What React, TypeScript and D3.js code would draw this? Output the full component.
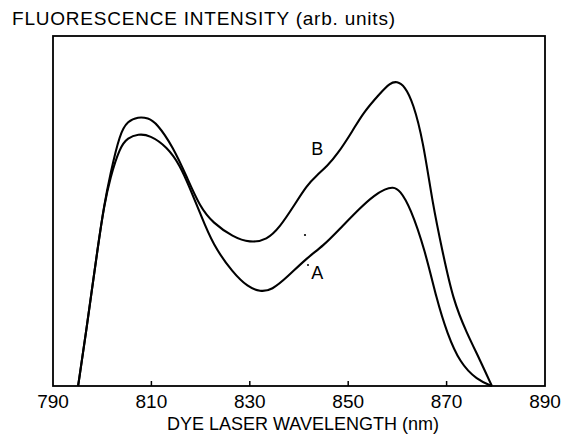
import React from "react";
import * as d3 from "d3";

const W = 573;
const H = 434;

// Wavelength (nm) / intensity (arb. units, 0-100 of frame height)
const wavelengthB = [795.1, 796.5, 799.3, 800.4, 801.6, 803.6, 805.2, 807.3, 809.3, 811.1, 814.4, 817.2, 819.9, 822.5, 826.6, 830.0, 833.5, 836.1, 838.8, 841.6, 843.7, 845.7, 847.7, 851.0, 853.0, 856.5, 858.5, 859.9, 861.5, 863.2, 865.2, 867.2, 869.1, 871.3, 874.1, 876.8, 879.2];
const intensityB = [0, 13.1, 41.7, 51.7, 60.3, 72.3, 75.7, 76.9, 76.6, 75.1, 68.3, 59.7, 51.1, 46.6, 42.6, 40.9, 41.7, 45.4, 51.1, 57.4, 60.3, 62.8, 66.0, 73.1, 78.0, 83.7, 86.6, 87.1, 85.7, 80.9, 70.3, 51.7, 38.9, 24.6, 15.1, 7.4, 0];

const wavelengthA = [795.1, 796.5, 799.3, 800.4, 801.6, 803.6, 805.2, 807.3, 809.7, 813.2, 815.8, 817.8, 819.9, 822.5, 826.6, 829.6, 832.1, 834.5, 837.6, 841.6, 844.9, 848.3, 852.4, 855.4, 857.5, 859.1, 860.5, 862.6, 865.6, 868.0, 870.1, 872.7, 876.2, 879.2];
const intensityA = [0, 13.1, 41.7, 51.5, 59.4, 68.3, 70.9, 72.0, 71.7, 68.3, 63.1, 56.6, 49.4, 40.3, 32.3, 28.3, 26.9, 27.4, 31.1, 36.6, 40.0, 44.9, 50.9, 54.6, 56.3, 56.9, 56.0, 51.1, 38.9, 24.6, 15.1, 6.6, 1.7, 0];

const xTicks = [790, 810, 830, 850, 870, 890];
const yTitle = "FLUORESCENCE INTENSITY (arb. units)";
const xTitle = "DYE LASER WAVELENGTH (nm)";
const seriesLabels = [
  { name: "B", wl: 843.7, val: 66.0 },
  { name: "A", wl: 843.7, val: 30.6 },
];

export default function App() {
  const left = 53, right = 545, top = 36, bottom = 386;
  const x = d3.scaleLinear().domain([790, 890]).range([left, right]);
  const y = d3.scaleLinear().domain([0, 100]).range([bottom, top]);
  const line = d3
    .line<[number, number]>()
    .x((d) => x(d[0]))
    .y((d) => y(d[1]))
    .curve(d3.curveBasis);
  const dataA = wavelengthA.map((w, i) => [w, intensityA[i]] as [number, number]);
  const dataB = wavelengthB.map((w, i) => [w, intensityB[i]] as [number, number]);
  const font = "'Liberation Sans', Arial, Helvetica, sans-serif";
  return (
    <svg
      width={W}
      height={H}
      style={{ position: "absolute", left: 0, top: 0, background: "#fff" }}
      fontFamily={font}
    >
      <rect x={0} y={0} width={W} height={H} fill="#fff" />
      <text x={12} y={25} fontSize={19} fill="#000" textLength={383} lengthAdjust="spacing">
        {yTitle}
      </text>
      <rect
        x={left}
        y={top}
        width={right - left}
        height={bottom - top}
        fill="none"
        stroke="#000"
        strokeWidth={1.8}
      />
      {xTicks.slice(1, -1).map((t) => (
        <line key={t} x1={x(t)} x2={x(t)} y1={bottom} y2={bottom - 5} stroke="#000" strokeWidth={1.5} />
      ))}
      {xTicks.map((t) => (
        <text key={t} x={x(t)} y={408} fontSize={19} textAnchor="middle" fill="#000">
          {t}
        </text>
      ))}
      <text x={(left + right) / 2 + 4} y={430} fontSize={18} textAnchor="middle" fill="#000">
        {xTitle}
      </text>
      <path d={line(dataB) || ""} fill="none" stroke="#000" strokeWidth={2.1} strokeLinejoin="round" />
      <path d={line(dataA) || ""} fill="none" stroke="#000" strokeWidth={2.1} strokeLinejoin="round" />
      {seriesLabels.map((s) => (
        <text key={s.name} x={x(s.wl)} y={y(s.val)} fontSize={18} textAnchor="middle" fill="#000">
          {s.name}
        </text>
      ))}
      <circle cx={305} cy={235} r={1.1} fill="#000" />
      <circle cx={308} cy={265} r={1} fill="#000" />
    </svg>
  );
}
